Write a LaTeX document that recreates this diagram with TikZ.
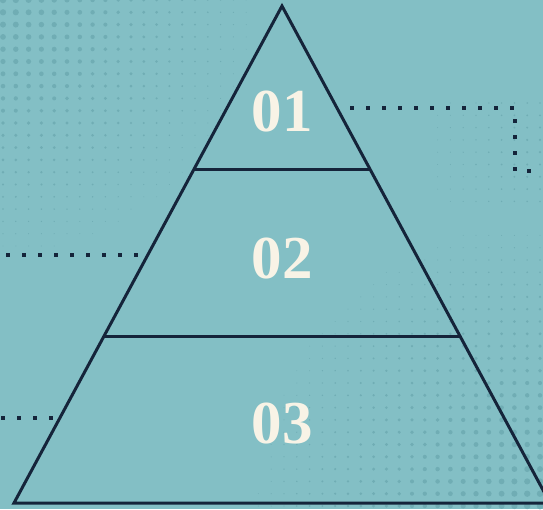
\documentclass[tikz,border=0pt]{standalone}
\usepackage{fontspec}
\setmainfont{Liberation Serif}
\definecolor{bgteal}{HTML}{83BFC5}
\definecolor{dotteal}{HTML}{70ADB4}
\definecolor{navy}{HTML}{15243A}
\definecolor{cream}{HTML}{F8F3E6}
\tikzset{
  edge/.style={draw=navy, line width=3pt, line join=miter},
  num/.style={text=cream, font=\fontsize{61}{61}\selectfont\bfseries, inner sep=0pt, anchor=center},
  sq/.style={fill=navy},
}
\begin{document}
\begin{tikzpicture}[x=1pt,y=-1pt]
\fill[bgteal] (0,0) rectangle (543,509);
\useasboundingbox (0,0) rectangle (543,509);
% halftone top-left
\foreach \i in {0,...,20}{
  \foreach \j in {0,...,22}{
    \pgfmathsetmacro\px{3+12.8*\i}
    \pgfmathsetmacro\py{0+12.3*\j}
    \pgfmathsetmacro\r{3.3-0.0115*veclen(\px,\py)}
    \ifdim\r pt>0.4pt \fill[dotteal] (\px,\py) circle (\r); \fi
  }
}
% halftone bottom-right
\foreach \i in {0,...,22}{
  \foreach \j in {0,...,26}{
    \pgfmathsetmacro\px{540-12.8*\i}
    \pgfmathsetmacro\py{506-12.3*\j}
    \pgfmathsetmacro\r{3.4-0.0105*veclen(543-\px,509-\py)}
    \ifdim\r pt>0.4pt \fill[dotteal] (\px,\py) circle (\r); \fi
  }
}
% faint upper-right halftone
\foreach \i in {0,...,12}{
  \foreach \j in {0,...,8}{
    \pgfmathsetmacro\px{540-12.8*\i}
    \pgfmathsetmacro\py{103+12.3*\j}
    \pgfmathsetmacro\r{1.3-0.008*veclen(540-\px,\py-150)}
    \ifdim\r pt>0.4pt \fill[dotteal] (\px,\py) circle (\r); \fi
  }
}
% pyramid
\coordinate (apex) at (282,6);
\coordinate (bl) at (14,503);
\coordinate (br) at (550,503);
\coordinate (l1) at (194,169);
\coordinate (r1) at (370,169);
\coordinate (l2) at (104.5,336);
\coordinate (r2) at (459.5,336);
\draw[edge] (bl) -- (apex) -- (br) -- cycle;
\draw[edge] (l1) -- (r1);
\draw[edge] (l2) -- (r2);
\node[num] (n1) at (282,112) {01};
\node[num] (n2) at (282,259) {02};
\node[num] (n3) at (282,424) {03};
% dotted leaders
\foreach \x in {352,368,...,512}{\fill[sq] (\x-2,106) rectangle (\x+2,110);}
\foreach \y in {121,137,153,169}{\fill[sq] (513,\y-2) rectangle (517,\y+2);}
\fill[sq] (527,169) rectangle (531,173);
\foreach \x in {8,24,...,136}{\fill[sq] (\x-2,253) rectangle (\x+2,257);}
\foreach \x in {3,19,35,51}{\fill[sq] (\x-2,416) rectangle (\x+2,420);}
\end{tikzpicture}
\end{document}
